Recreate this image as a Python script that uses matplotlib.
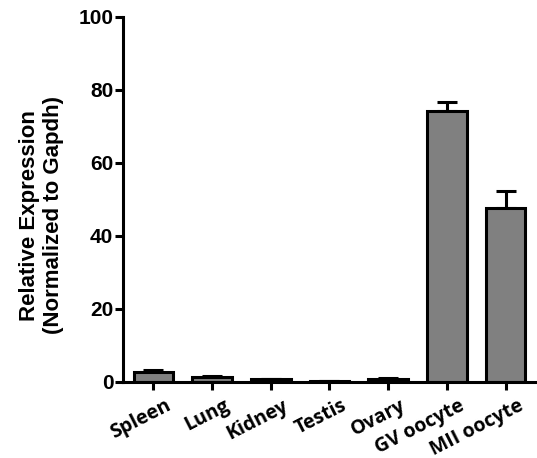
import matplotlib
matplotlib.use('Agg')
import matplotlib.pyplot as plt
from matplotlib.transforms import ScaledTranslation

tissues = ['Spleen', 'Lung', 'Kidney', 'Testis', 'Ovary', 'GV oocyte', 'MII oocyte']
expression = [2.6, 1.4, 0.7, 0.3, 0.8, 74.2, 47.6]
errors = [0.6, 0.3, 0.2, 0.1, 0.2, 2.6, 4.7]
yticks = [0, 20, 40, 60, 80, 100]

fig = plt.figure(figsize=(5.37, 4.58), dpi=100)
ax = fig.add_axes([0.229, 0.166, 0.767, 0.797])

x = range(len(tissues))
ax.bar(x, expression, width=0.68, color='#808080', edgecolor='black', linewidth=2.2, zorder=2)
ax.errorbar(x, expression, yerr=[[0]*len(errors), errors], fmt='none', ecolor='black',
            elinewidth=2.2, capsize=7, capthick=2.2, zorder=1)

ax.spines['top'].set_visible(False)
ax.spines['right'].set_visible(False)
ax.spines['left'].set_linewidth(2.2)
ax.spines['bottom'].set_linewidth(2.2)
ax.tick_params(axis='both', width=2.2, length=6)
ax.tick_params(axis='y', pad=1)
ax.tick_params(axis='x', pad=4)

ax.set_xlim(-0.52, 6.5)
ax.set_ylim(0, 100)
ax.set_yticks(yticks)
ax.set_xticks(list(x))
ax.set_xticklabels(tissues, rotation=27, ha='right', va='top',
                   fontsize=14, fontweight='bold', family='Open Sans')
# shift rotated labels right like the original
shift = ScaledTranslation(21/100, 0, fig.dpi_scale_trans)
for lab in ax.get_xticklabels():
    lab.set_transform(lab.get_transform() + shift)
for lab in ax.get_yticklabels():
    lab.set_fontsize(15)
    lab.set_fontweight('bold')
    lab.set_family('Liberation Sans')

ax.set_ylabel('Relative Expression\n(Normalized to Gapdh)', fontsize=16, fontweight='bold',
              family='Liberation Sans')
ax.yaxis.set_label_coords(-0.143, 0.457)

fig.savefig('out.png', dpi=100)
